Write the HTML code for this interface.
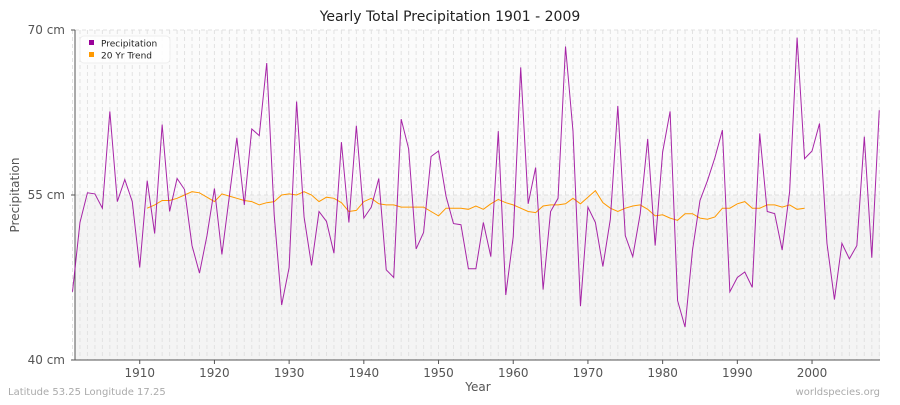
<!DOCTYPE html>
<html><head><meta charset="utf-8"><style>
body{margin:0;background:#fff;font-family:"Liberation Sans",sans-serif;}
svg text{font-family:"DejaVu Sans","Liberation Sans",sans-serif;}
</style></head><body>
<svg id="chart" width="900" height="400" xmlns="http://www.w3.org/2000/svg">
<text x="450" y="21" text-anchor="middle" font-size="14" fill="#222">Yearly Total Precipitation 1901 - 2009</text>
<g id="plot"></g>
<text x="19" y="195" text-anchor="middle" font-size="12" fill="#555" transform="rotate(-90 19 195)">Precipitation</text>
<text x="478" y="391" text-anchor="middle" font-size="12" fill="#555">Year</text>
<text x="8" y="395" font-size="10" fill="#aaa">Latitude 53.25 Longitude 17.25</text>
<text x="880" y="395" text-anchor="end" font-size="10" fill="#aaa">worldspecies.org</text>
<g>
<rect x="80" y="36" width="90" height="27" rx="4" fill="#fff" opacity="0.9" stroke="#eee"/>
<rect x="89" y="40" width="5" height="5" fill="#990099"/>
<text x="101" y="46.5" font-size="9" fill="#222">Precipitation</text>
<rect x="89" y="52" width="5" height="5" fill="#ff9900"/>
<text x="101" y="58.5" font-size="9" fill="#222">20 Yr Trend</text>
</g>
</svg>
<script>
const precip=[46.2,52.5,55.2,55.1,53.8,62.6,54.4,56.4,54.4,48.4,56.3,51.5,61.4,53.5,56.5,55.5,50.4,47.9,51.3,55.6,49.6,54.9,60.2,54.1,61.0,60.4,67.0,53.2,45.0,48.4,63.5,53.0,48.6,53.5,52.6,49.7,59.8,52.5,61.3,52.9,53.9,56.5,48.2,47.5,61.9,59.2,50.1,51.6,58.5,59.0,54.9,52.4,52.3,48.3,48.3,52.5,49.4,60.8,45.9,51.2,66.6,54.2,57.5,46.4,53.5,54.7,68.5,60.8,44.9,53.9,52.5,48.5,52.8,63.1,51.3,49.4,53.3,60.1,50.4,58.9,62.6,45.4,43.0,50.0,54.5,56.3,58.4,60.9,46.2,47.5,48.0,46.6,60.6,53.5,53.3,50.0,55.3,69.3,58.3,59.0,61.5,50.6,45.5,50.6,49.2,50.4,60.3,49.3,62.7];
const trendStart=1911;
const trend=[53.8,54.1,54.5,54.5,54.7,55.0,55.3,55.2,54.8,54.4,55.1,54.9,54.7,54.5,54.4,54.1,54.3,54.4,55.0,55.1,55.0,55.3,55.0,54.4,54.8,54.7,54.3,53.5,53.6,54.4,54.7,54.2,54.1,54.1,53.9,53.9,53.9,53.9,53.5,53.1,53.8,53.8,53.8,53.7,54.0,53.7,54.2,54.6,54.3,54.1,53.8,53.5,53.4,54.0,54.1,54.1,54.2,54.7,54.2,54.8,55.4,54.3,53.8,53.5,53.8,54.0,54.1,53.7,53.1,53.2,52.9,52.7,53.3,53.3,52.9,52.8,53.0,53.8,53.8,54.2,54.4,53.8,53.8,54.1,54.1,53.9,54.1,53.7,53.8];
const yTicks=[40,55,70];
const xTicks=[1910,1920,1930,1940,1950,1960,1970,1980,1990,2000];
const firstYear=1901,lastYear=2009;
const L=75,R=880,T=30,B=360;
const xs=y=>72.5+(y-firstYear)*7.47;
const ys=v=>B-(v-40)*(B-T)/30;
const NS='http://www.w3.org/2000/svg';
const g=document.getElementById('plot');
function mk(tag,attrs){const e=document.createElementNS(NS,tag);for(const k in attrs)e.setAttribute(k,attrs[k]);g.appendChild(e);return e;}
let e;
e=mk('rect',{x:L,y:T,width:R-L,height:ys(55)-T,fill:'#fbfbfb'});


e=mk('rect',{x:L,y:ys(55),width:R-L,height:B-ys(55),fill:'#f4f4f4'});


for(let y=firstYear;y<=lastYear;y++){
 e=mk('line',{x1:xs(y),x2:xs(y),y1:T,y2:B,stroke:'#e2e2e2','stroke-dasharray':'4,3','stroke-width':1});
 
 
}
yTicks.forEach(v=>{
 e=mk('line',{x1:L,x2:R,y1:ys(v),y2:ys(v),stroke:'#e0e0e0','stroke-dasharray':'4,3'});
 
 
 e=mk('line',{x1:L-4,x2:L,y1:ys(v),y2:ys(v),stroke:'#555'});
 
 
 e=mk('text',{x:L-10,y:ys(v)+4,'text-anchor':'end','font-size':12,fill:'#555'});
 e.textContent=v+' cm';
 
 
});
xTicks.forEach(y=>{
 e=mk('line',{x1:xs(y),x2:xs(y),y1:B,y2:B+4,stroke:'#555'});
 
 
 e=mk('text',{x:xs(y),y:B+17,'text-anchor':'middle','font-size':12,fill:'#555'});
 e.textContent=y;
 
 
});
e=mk('line',{x1:L,x2:L,y1:T,y2:B,stroke:'#555'});


e=mk('line',{x1:L,x2:R,y1:B,y2:B,stroke:'#555'});


e=mk('polyline',{points:trend.map((v,i)=>xs(trendStart+i)+','+ys(v)).join(' '),fill:'none',stroke:'#ff9900','stroke-width':1});


e=mk('polyline',{points:precip.map((v,i)=>xs(firstYear+i)+','+ys(v)).join(' '),fill:'none',stroke:'#990099','stroke-width':1,'stroke-opacity':0.85});


</script>
</body></html>
